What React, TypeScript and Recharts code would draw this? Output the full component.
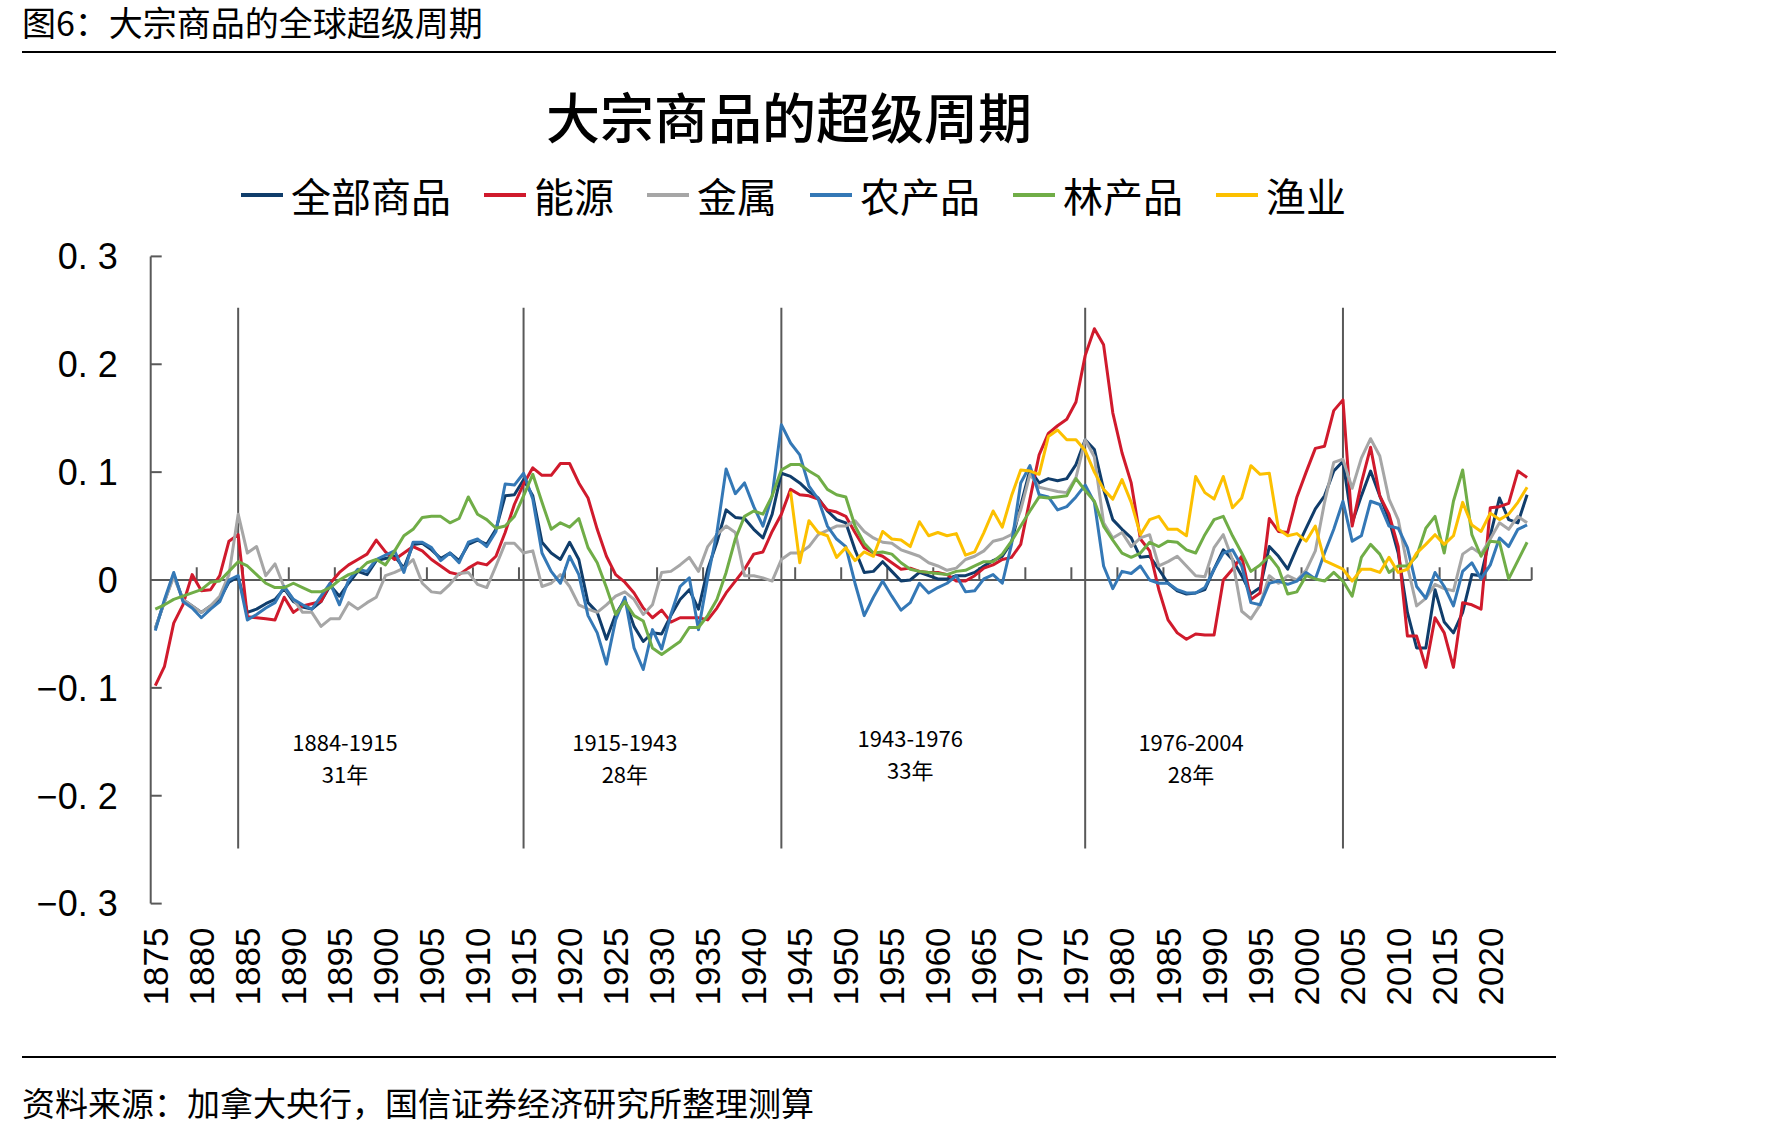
import {
  LineChart,
  Line,
  XAxis,
  YAxis,
  ReferenceLine,
  ReferenceDot,
} from 'recharts'

const FIRST_YEAR = 1875
const LAST_YEAR = 2024
const YEARS = Array.from({ length: LAST_YEAR - FIRST_YEAR + 1 }, (_, i) => FIRST_YEAR + i)

// 全部商品
const ALL = [
  -0.045, -0.02, 0.005, -0.018, -0.024, -0.03, -0.024, -0.018, -0.002, 0.003,
  -0.03, -0.027, -0.022, -0.018, -0.008, -0.02, -0.025, -0.027, -0.02, -0.005,
  -0.015, -0.003, 0.008, 0.005, 0.018, 0.02, 0.022, 0.011, 0.033, 0.034,
  0.028, 0.02, 0.025, 0.018, 0.033, 0.037, 0.033, 0.047, 0.078, 0.079,
  0.093, 0.078, 0.035, 0.025, 0.019, 0.035, 0.019, -0.021, -0.03, -0.055,
  -0.032, -0.018, -0.043, -0.057, -0.049, -0.05, -0.033, -0.018, -0.009, -0.027,
  0.01, 0.035, 0.065, 0.058, 0.057, 0.047, 0.039, 0.061, 0.099, 0.096,
  0.09, 0.082, 0.076, 0.064, 0.056, 0.053, 0.028, 0.007, 0.008, 0.017,
  0.008, -0.001, 0, 0.007, 0.004, 0.001, 0.001, 0.004, 0.004, 0.007,
  0.013, 0.018, 0.022, 0.035, 0.069, 0.102, 0.09, 0.094, 0.092, 0.094,
  0.107, 0.13, 0.121, 0.084, 0.056, 0.047, 0.039, 0.021, 0.022, 0.01,
  -0.003, -0.01, -0.013, -0.012, -0.009, 0.01, 0.028, 0.019, 0.004, -0.013,
  -0.007, 0.031, 0.022, 0.01, 0.03, 0.048, 0.066, 0.078, 0.101, 0.11,
  0.053, 0.078, 0.101, 0.078, 0.056, 0.025, -0.03, -0.063, -0.063, -0.009,
  -0.039, -0.049, -0.03, 0.005, 0.004, 0.041, 0.076, 0.056, 0.053, 0.079,
]

// 能源
const ENERGY = [
  -0.098, -0.08, -0.04, -0.023, 0.005, -0.01, -0.009, 0.004, 0.036, 0.042,
  -0.034, -0.035, -0.036, -0.037, -0.016, -0.03, -0.024, -0.022, -0.02, -0.003,
  0.007, 0.014, 0.019, 0.024, 0.037, 0.026, 0.019, 0.025, 0.031, 0.027,
  0.019, 0.013, 0.007, 0.005, 0.011, 0.016, 0.014, 0.022, 0.044, 0.07,
  0.089, 0.104, 0.097, 0.097, 0.108, 0.108, 0.09, 0.076, 0.047, 0.022,
  0.005, -0.002, -0.012, -0.026, -0.035, -0.028, -0.039, -0.035, -0.035, -0.035,
  -0.037, -0.026, -0.012, -0.001, 0.01, 0.024, 0.026, 0.045, 0.061, 0.084,
  0.079, 0.078, 0.075, 0.065, 0.063, 0.059, 0.044, 0.03, 0.025, 0.022,
  0.016, 0.01, 0.011, 0.008, 0.007, 0.007, 0.005, -0.001, -0.001, 0.004,
  0.011, 0.014, 0.019, 0.021, 0.033, 0.075, 0.116, 0.136, 0.143, 0.149,
  0.165, 0.208, 0.233, 0.218, 0.155, 0.118, 0.09, 0.038, 0.027, -0.009,
  -0.037, -0.049, -0.055, -0.05, -0.051, -0.051, 0, 0.01, 0.022, -0.018,
  -0.012, 0.057, 0.045, 0.044, 0.077, 0.1, 0.122, 0.124, 0.157, 0.167,
  0.05, 0.09, 0.123, 0.078, 0.061, 0.031, -0.052, -0.052, -0.081, -0.035,
  -0.049, -0.081, -0.021, -0.023, -0.027, 0.067, 0.068, 0.071, 0.101, 0.095,
]

// 金属
const METALS = [
  -0.045, -0.02, 0.003, -0.018, -0.024, -0.03, -0.024, -0.015, 0.005, 0.061,
  0.025, 0.031, 0.004, 0.015, -0.007, -0.018, -0.03, -0.03, -0.043, -0.036,
  -0.036, -0.021, -0.027, -0.021, -0.016, 0.004, 0.007, 0.011, 0.019, -0.003,
  -0.011, -0.012, -0.004, 0.006, 0.007, -0.004, -0.007, 0.013, 0.034, 0.034,
  0.025, 0.027, -0.006, -0.003, 0.005, -0.006, -0.023, -0.027, -0.03, -0.023,
  -0.015, -0.011, -0.018, -0.032, -0.023, 0.007, 0.008, 0.014, 0.021, 0.008,
  0.031, 0.042, 0.05, 0.044, 0.004, 0.004, 0.002, -0.001, 0.019, 0.025,
  0.025, 0.031, 0.042, 0.046, 0.05, 0.05, 0.055, 0.045, 0.039, 0.035,
  0.034, 0.028, 0.025, 0.022, 0.016, 0.013, 0.009, 0.011, 0.019, 0.022,
  0.027, 0.036, 0.038, 0.042, 0.065, 0.098, 0.086, 0.084, 0.082, 0.081,
  0.095, 0.13, 0.114, 0.053, 0.039, 0.044, 0.031, 0.039, 0.042, 0.013,
  0.017, 0.022, 0.013, 0.004, 0.003, 0.03, 0.042, 0.019, -0.029, -0.036,
  -0.023, 0.004, -0.003, 0.004, 0, 0.009, 0.027, 0.072, 0.109, 0.112,
  0.085, 0.113, 0.131, 0.115, 0.075, 0.056, 0.013, -0.024, -0.017, -0.004,
  -0.008, -0.01, 0.024, 0.03, 0.024, 0.038, 0.053, 0.047, 0.059, 0.053,
]

// 农产品
const AGRI = [
  -0.047, -0.018, 0.007, -0.02, -0.026, -0.035, -0.027, -0.02, 0, 0.004,
  -0.037, -0.032, -0.026, -0.021, -0.006, -0.018, -0.023, -0.027, -0.015, -0.003,
  -0.023, 0, 0.01, 0.008, 0.019, 0.023, 0.027, 0.007, 0.035, 0.035,
  0.03, 0.018, 0.025, 0.016, 0.035, 0.038, 0.031, 0.045, 0.089, 0.088,
  0.099, 0.075, 0.025, 0.008, -0.003, 0.022, 0.005, -0.033, -0.049, -0.078,
  -0.037, -0.016, -0.063, -0.083, -0.046, -0.064, -0.032, -0.006, 0.002, -0.046,
  0.002, 0.044, 0.103, 0.08, 0.09, 0.068, 0.05, 0.078, 0.144, 0.127,
  0.116, 0.087, 0.075, 0.05, 0.038, 0.031, -0.003, -0.033, -0.016, -0.001,
  -0.015, -0.028, -0.021, -0.003, -0.012, -0.007, -0.003, 0.004, -0.011, -0.01,
  0.001, 0.005, -0.003, 0.033, 0.09, 0.106, 0.079, 0.077, 0.065, 0.068,
  0.077, 0.088, 0.072, 0.013, -0.008, 0.008, 0.006, 0.013, 0, -0.003,
  -0.003, -0.009, -0.012, -0.012, -0.007, 0.01, 0.025, 0.028, 0.013, -0.021,
  -0.023, -0.003, -0.001, -0.004, -0.001, 0.007, 0.001, 0.025, 0.047, 0.073,
  0.036, 0.041, 0.073, 0.07, 0.05, 0.048, 0.03, -0.006, -0.017, 0.007,
  -0.006, -0.024, 0.008, 0.016, 0.001, 0.014, 0.039, 0.031, 0.047, 0.051,
]

// 林产品
const FOREST = [
  -0.027, -0.023, -0.018, -0.015, -0.012, -0.009, -0.002, -0.001, 0.008, 0.017,
  0.013, 0.005, -0.003, -0.007, -0.007, -0.003, -0.007, -0.011, -0.011, -0.007,
  0, 0.005, 0.008, 0.016, 0.019, 0.014, 0.027, 0.041, 0.047, 0.058,
  0.059, 0.059, 0.053, 0.057, 0.077, 0.061, 0.056, 0.048, 0.05, 0.059,
  0.078, 0.098, 0.072, 0.047, 0.053, 0.049, 0.057, 0.03, 0.016, -0.007,
  -0.032, -0.02, -0.033, -0.038, -0.063, -0.069, -0.063, -0.057, -0.044, -0.044,
  -0.033, -0.018, 0.007, 0.038, 0.059, 0.064, 0.061, 0.078, 0.102, 0.107,
  0.107, 0.101, 0.096, 0.084, 0.079, 0.077, 0.05, 0.034, 0.025, 0.026,
  0.024, 0.016, 0.01, 0.008, 0.007, 0.006, 0.005, 0.008, 0.009, 0.013,
  0.017, 0.017, 0.024, 0.036, 0.05, 0.064, 0.077, 0.076, 0.077, 0.078,
  0.094, 0.083, 0.073, 0.05, 0.037, 0.025, 0.021, 0.025, 0.035, 0.031,
  0.036, 0.035, 0.028, 0.025, 0.042, 0.056, 0.059, 0.041, 0.025, 0.008,
  0.014, 0.022, 0.011, -0.013, -0.011, 0.004, 0.001, -0.001, 0.007, -0.001,
  -0.015, 0.021, 0.033, 0.024, 0.007, 0.013, 0.013, 0.022, 0.048, 0.059,
  0.025, 0.073, 0.102, 0.042, 0.022, 0.036, 0.035, 0.001, 0.018, 0.035,
]

// 渔业 (series begins in 1944)
const FISHERY_START = 1944
const FISHERY = [
  0.082, 0.016, 0.055, 0.044, 0.041, 0.021, 0.03, 0.018, 0.026, 0.022,
  0.045, 0.038, 0.037, 0.031, 0.054, 0.041, 0.044, 0.041, 0.043, 0.023,
  0.026, 0.044, 0.064, 0.049, 0.078, 0.102, 0.101, 0.098, 0.133, 0.139,
  0.13, 0.13, 0.12, 0.1, 0.084, 0.075, 0.093, 0.072, 0.042, 0.056,
  0.059, 0.047, 0.047, 0.041, 0.096, 0.081, 0.075, 0.096, 0.067, 0.076,
  0.106, 0.098, 0.099, 0.047, 0.041, 0.043, 0.036, 0.05, 0.018, 0.014,
  0.01, -0.001, 0.01, 0.01, 0.007, 0.021, 0.007, 0.01, 0.025, 0.033,
  0.042, 0.033, 0.041, 0.072, 0.051, 0.045, 0.062, 0.056, 0.061, 0.072,
  0.086,
]

const SERIES = [
  { key: 'all', name: '全部商品', color: '#103d6b' },
  { key: 'energy', name: '能源', color: '#d01a2c' },
  { key: 'metals', name: '金属', color: '#a6a6a6' },
  { key: 'agri', name: '农产品', color: '#3478b6' },
  { key: 'forest', name: '林产品', color: '#70ad47' },
  { key: 'fishery', name: '渔业', color: '#fcc000' },
]

const CYCLE_BREAKS = [1884, 1915, 1943, 1976, 2004]
const CYCLE_LABELS = [
  { year: 1895.6, range: '1884-1915', span: '31年', dy: 0 },
  { year: 1926, range: '1915-1943', span: '28年', dy: 0 },
  { year: 1957, range: '1943-1976', span: '33年', dy: 0.0037 },
  { year: 1987.5, range: '1976-2004', span: '28年', dy: 0 },
]

const Y_TICKS = [-0.3, -0.2, -0.1, 0, 0.1, 0.2, 0.3]
const X_LABELS = YEARS.filter((y) => y % 5 === 0)
const X_TICK_MARKS = X_LABELS.map((y) => y + 4.5)

const rows = YEARS.map((year, i) => {
  const f = year - FISHERY_START
  return {
    year,
    all: ALL[i],
    energy: ENERGY[i],
    metals: METALS[i],
    agri: AGRI[i],
    forest: FOREST[i],
    fishery: f >= 0 ? FISHERY[f] : null,
  }
})

const CJK = '"Noto Sans CJK SC", "Noto Sans", sans-serif'
const LATIN = '"Liberation Sans", Arial, sans-serif'
const AXIS = '#595959'

function fmtY(v: number) {
  if (Math.abs(v) < 1e-9) return '0'
  const d = Math.round(Math.abs(v) * 10)
  return `${v < 0 ? '−' : ''}0. ${d}`
}

function YearTick(props: any) {
  const { x, y, payload } = props
  return (
    <text
      x={x}
      y={y}
      transform={`rotate(-90 ${x} ${y})`}
      textAnchor="end"
      dominantBaseline="central"
      fontSize={35}
      fontFamily={LATIN}
      fill="#000"
    >
      {payload.value}
    </text>
  )
}

export default function App() {
  return (
    <div
      style={{
        position: 'absolute',
        left: 0,
        top: 0,
        width: 1771,
        height: 1135,
        background: '#fff',
        overflow: 'hidden',
      }}
    >
      <div
        style={{
          position: 'absolute',
          left: 22,
          top: 2,
          fontFamily: CJK,
          fontSize: 34,
          lineHeight: '40px',
          color: '#000',
          whiteSpace: 'nowrap',
        }}
      >
        图6：大宗商品的全球超级周期
      </div>
      <div style={{ position: 'absolute', left: 22, top: 51, width: 1534, height: 2, background: '#000' }} />

      <div
        style={{
          position: 'absolute',
          left: 0,
          width: 1578,
          top: 87,
          textAlign: 'center',
          fontFamily: CJK,
          fontSize: 54,
          fontWeight: 500,
          lineHeight: '58px',
          color: '#000',
        }}
      >
        大宗商品的超级周期
      </div>

      <div
        style={{
          position: 'absolute',
          left: 241,
          top: 173,
          display: 'flex',
          alignItems: 'center',
          gap: 33,
          fontFamily: CJK,
          fontSize: 40,
          lineHeight: '44px',
          color: '#000',
        }}
      >
        {SERIES.map((s) => (
          <div key={s.key} style={{ display: 'flex', alignItems: 'center' }}>
            <div style={{ width: 42, height: 4, background: s.color, marginRight: 8 }} />
            <span>{s.name}</span>
          </div>
        ))}
      </div>

      <div style={{ position: 'absolute', left: 0, top: 0 }}>
        <LineChart
          width={1771}
          height={1135}
          data={rows}
          margin={{ top: 256.4, right: 239.3, bottom: 0, left: 0 }}
        >
          <XAxis
            dataKey="year"
            type="number"
            domain={[FIRST_YEAR - 0.5, LAST_YEAR + 0.5]}
            ticks={X_LABELS}
            interval={0}
            height={231.4}
            axisLine={false}
            tickLine={false}
            tickMargin={18}
            tick={<YearTick />}
          />
          <YAxis
            type="number"
            domain={[-0.3, 0.3]}
            ticks={Y_TICKS}
            interval={0}
            width={150.7}
            tickFormatter={fmtY}
            axisLine={{ stroke: AXIS, strokeWidth: 2 }}
            tickLine={{ stroke: AXIS, strokeWidth: 2 }}
            tickSize={-11}
            tickMargin={44}
            tick={{ fontSize: 36, fill: '#000', fontFamily: LATIN }}
          />
          <ReferenceLine y={0} stroke={AXIS} strokeWidth={2} />
          {X_TICK_MARKS.map((t) => (
            <ReferenceLine
              key={`xt${t}`}
              segment={[
                { x: t, y: 0 },
                { x: t, y: 0.0118 },
              ]}
              stroke={AXIS}
              strokeWidth={2}
            />
          ))}
          {CYCLE_BREAKS.map((yr) => (
            <ReferenceLine
              key={`cb${yr}`}
              segment={[
                { x: yr, y: -0.249 },
                { x: yr, y: 0.2525 },
              ]}
              stroke={AXIS}
              strokeWidth={2}
            />
          ))}
          {CYCLE_LABELS.map((c) => [
            <ReferenceDot
              key={`cr${c.range}`}
              x={c.year}
              y={-0.1514 + c.dy}
              r={0}
              fill="none"
              stroke="none"
              label={{ value: c.range, position: 'center', fontSize: 22, fill: '#000', fontFamily: CJK }}
            />,
            <ReferenceDot
              key={`cs${c.range}`}
              x={c.year}
              y={-0.181 + c.dy}
              r={0}
              fill="none"
              stroke="none"
              label={{ value: c.span, position: 'center', fontSize: 22, fill: '#000', fontFamily: CJK }}
            />,
          ])}
          {SERIES.map((s) => (
            <Line
              key={s.key}
              type="linear"
              dataKey={s.key}
              name={s.name}
              stroke={s.color}
              strokeWidth={3}
              dot={false}
              activeDot={false}
              strokeLinejoin="round"
              isAnimationActive={false}
            />
          ))}
        </LineChart>
      </div>

      <div style={{ position: 'absolute', left: 22, top: 1056, width: 1534, height: 2, background: '#000' }} />
      <div
        style={{
          position: 'absolute',
          left: 22,
          top: 1084,
          fontFamily: CJK,
          fontSize: 33,
          lineHeight: '37px',
          color: '#000',
          whiteSpace: 'nowrap',
        }}
      >
        资料来源：加拿大央行，国信证券经济研究所整理测算
      </div>
    </div>
  )
}
